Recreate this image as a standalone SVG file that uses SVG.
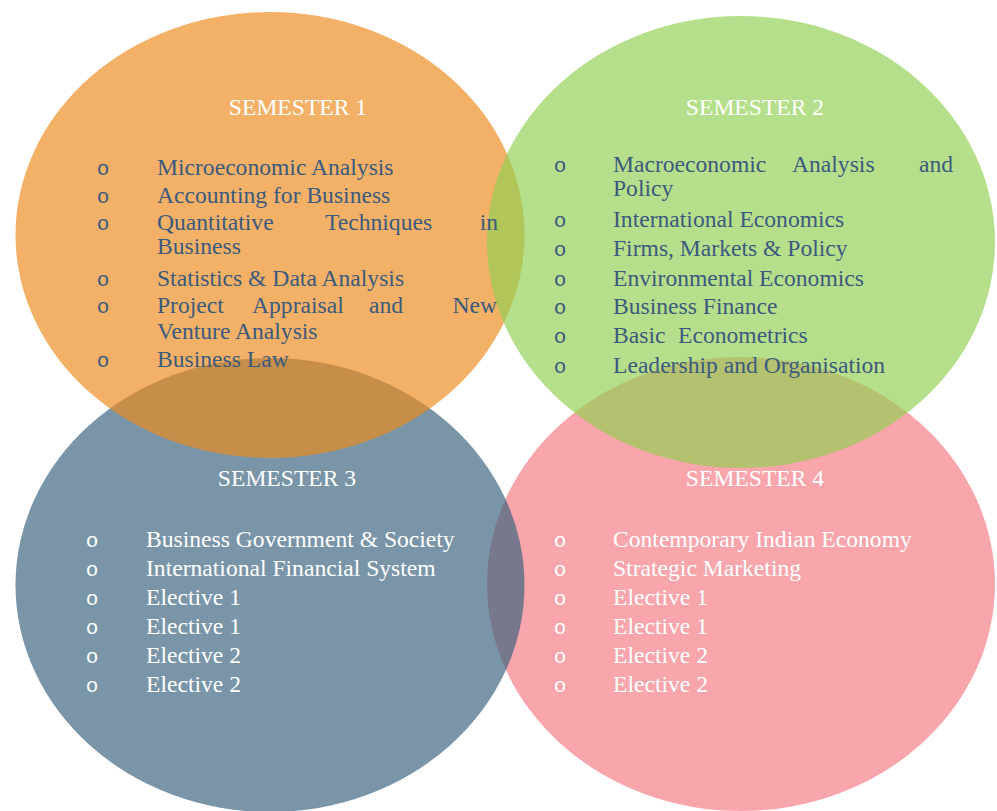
<svg xmlns="http://www.w3.org/2000/svg" width="997" height="811" viewBox="0 0 997 811">
<style>
  .shape { fill-opacity: 0.67; stroke: none; }
  text { font-family: "Liberation Serif", "Times New Roman", serif; font-size: 23.6px; }
  .head { fill: #ffffff; text-anchor: middle; }
  .dark { fill: #3B5A7E; }
  .light { fill: #ffffff; }
  .bul { font-family: "Liberation Mono", "Courier New", monospace; font-size: 21px; text-anchor: middle; }
  .end { text-anchor: end; }
</style>
<rect width="997" height="811" fill="#ffffff"/>
<g id="semester-4"><ellipse class="shape" cx="741" cy="584" rx="254" ry="227" fill="#F57A83"/></g>
<g id="semester-3"><ellipse class="shape" cx="270" cy="585" rx="254.5" ry="227" fill="#39617D"/></g>
<g id="semester-1"><ellipse class="shape" cx="270" cy="235" rx="254.5" ry="223" fill="#ED8B1C"/></g>
<g id="semester-2"><ellipse class="shape" cx="741" cy="242" rx="254" ry="226" fill="#92CF52"/></g>
<g id="connectors"></g>
<g id="semester-1-labels">
  <text class="head" x="298" y="115">SEMESTER 1</text>
  <g class="dark">
    <text class="bul" x="103" y="175">o</text>
    <text class="bul" x="103" y="203">o</text>
    <text class="bul" x="103" y="230">o</text>
    <text class="bul" x="103" y="286">o</text>
    <text class="bul" x="103" y="313">o</text>
    <text class="bul" x="103" y="367">o</text>
    <text x="157" y="175">Microeconomic Analysis</text>
    <text x="157" y="203">Accounting for Business</text>
    <text x="157" y="230">Quantitative</text>
    <text x="325" y="230">Techniques</text>
    <text class="end" x="498" y="230">in</text>
    <text x="157" y="254">Business</text>
    <text x="157" y="286">Statistics &amp; Data Analysis</text>
    <text x="157" y="313">Project</text>
    <text x="252" y="313">Appraisal</text>
    <text x="369" y="313">and</text>
    <text class="end" x="497" y="313">New</text>
    <text x="157" y="339">Venture Analysis</text>
    <text x="157" y="367">Business Law</text>
  </g>
</g>
<g id="semester-2-labels">
  <text class="head" x="755" y="115">SEMESTER 2</text>
  <g class="dark">
    <text class="bul" x="560" y="172">o</text>
    <text class="bul" x="560" y="227">o</text>
    <text class="bul" x="560" y="256">o</text>
    <text class="bul" x="560" y="286">o</text>
    <text class="bul" x="560" y="314">o</text>
    <text class="bul" x="560" y="343">o</text>
    <text class="bul" x="560" y="373">o</text>
    <text x="613" y="172">Macroeconomic</text>
    <text x="792" y="172">Analysis</text>
    <text class="end" x="953" y="172">and</text>
    <text x="613" y="196">Policy</text>
    <text x="613" y="227">International Economics</text>
    <text x="613" y="256">Firms, Markets &amp; Policy</text>
    <text x="613" y="286">Environmental Economics</text>
    <text x="613" y="314">Business Finance</text>
    <text x="613" y="343">Basic</text>
    <text x="678" y="343">Econometrics</text>
    <text x="613" y="373">Leadership and Organisation</text>
  </g>
</g>
<g id="semester-3-labels">
  <text class="head" x="287" y="486">SEMESTER 3</text>
  <g class="light">
    <text class="bul" x="92" y="547">o</text>
    <text class="bul" x="92" y="576">o</text>
    <text class="bul" x="92" y="605">o</text>
    <text class="bul" x="92" y="634">o</text>
    <text class="bul" x="92" y="663">o</text>
    <text class="bul" x="92" y="692">o</text>
    <text x="146" y="547">Business Government &amp; Society</text>
    <text x="146" y="576">International Financial System</text>
    <text x="146" y="605">Elective 1</text>
    <text x="146" y="634">Elective 1</text>
    <text x="146" y="663">Elective 2</text>
    <text x="146" y="692">Elective 2</text>
  </g>
</g>
<g id="semester-4-labels">
  <text class="head" x="755" y="486">SEMESTER 4</text>
  <g class="light">
    <text class="bul" x="560" y="547">o</text>
    <text class="bul" x="560" y="576">o</text>
    <text class="bul" x="560" y="605">o</text>
    <text class="bul" x="560" y="634">o</text>
    <text class="bul" x="560" y="663">o</text>
    <text class="bul" x="560" y="692">o</text>
    <text x="613" y="547">Contemporary Indian Economy</text>
    <text x="613" y="576">Strategic Marketing</text>
    <text x="613" y="605">Elective 1</text>
    <text x="613" y="634">Elective 1</text>
    <text x="613" y="663">Elective 2</text>
    <text x="613" y="692">Elective 2</text>
  </g>
</g>
</svg>
